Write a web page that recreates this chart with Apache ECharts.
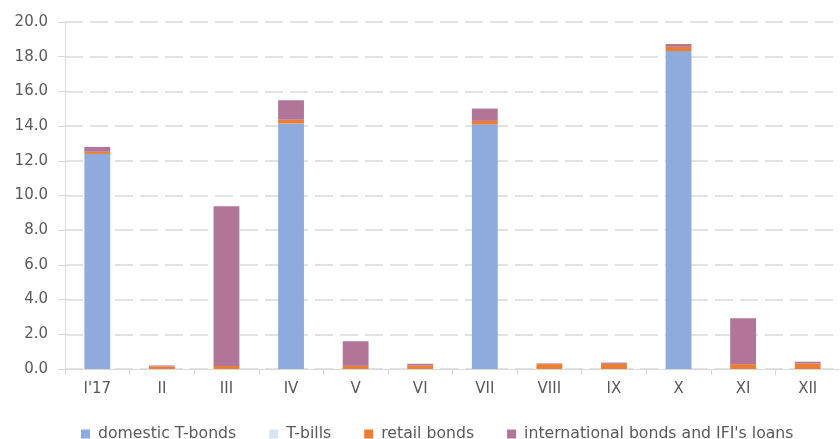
<!DOCTYPE html>
<html>
<head>
<meta charset="utf-8">
<script src="https://cdn.jsdelivr.net/npm/echarts@6/dist/echarts.min.js"></script>
<style>
  html, body { margin: 0; padding: 0; background: #ffffff; }
  #chart { width: 840px; height: 439px; }
</style>
</head>
<body>
<div id="chart"></div>
<script>
// Monthly borrowing by instrument, 2017
const months = ["I'17", "II", "III", "IV", "V", "VI", "VII", "VIII", "IX", "X", "XI", "XII"];
const domesticTBonds = [12.4, 0, 0, 14.15, 0, 0, 14.1, 0, 0, 18.33, 0, 0];
const tBills = [0, 0, 0, 0, 0, 0, 0, 0, 0, 0, 0, 0];
const retailBonds = [0.12, 0.15, 0.18, 0.22, 0.18, 0.2, 0.2, 0.28, 0.3, 0.24, 0.28, 0.32];
const intlBondsIFI = [0.28, 0.05, 9.2, 1.12, 1.42, 0.1, 0.71, 0.04, 0.07, 0.16, 2.64, 0.1];
const yTicks = { min: 0, max: 20, interval: 2 };

const FONT = 'DejaVu Sans';
const chart = echarts.init(document.getElementById('chart'), null, { renderer: 'canvas' });

function stackSeries(name, data, color) {
  return {
    name: name,
    type: 'bar',
    stack: 'total',
    data: data,
    barWidth: '40%',
    itemStyle: { color: color },
    emphasis: { disabled: true }
  };
}

chart.setOption({
  animation: false,
  backgroundColor: '#ffffff',
  textStyle: { fontFamily: FONT },
  grid: { left: 65, right: 0, top: 22, bottom: 70, containLabel: false },
  legend: {
    top: 421,
    left: 76,
    itemWidth: 9,
    itemHeight: 9,
    itemGap: 33,
    icon: 'rect',
    textStyle: { color: '#595959', fontSize: 15.7, fontFamily: FONT, padding: [0, 0, 0, 3] },
    data: ['domestic T-bonds', 'T-bills', 'retail bonds', "international bonds and IFI's loans"]
  },
  xAxis: {
    type: 'category',
    data: months,
    boundaryGap: true,
    axisLine: { show: true, lineStyle: { color: '#d9d9d9', width: 1 } },
    axisTick: { show: true, alignWithLabel: false, length: 6, lineStyle: { color: '#d9d9d9' } },
    axisLabel: { color: '#595959', fontSize: 15, fontFamily: FONT, margin: 13 }
  },
  yAxis: {
    type: 'value',
    min: yTicks.min,
    max: yTicks.max,
    interval: yTicks.interval,
    axisLine: { show: true, lineStyle: { color: '#d9d9d9', width: 1 } },
    axisTick: { show: true, length: 7, lineStyle: { color: '#d9d9d9' } },
    axisLabel: {
      color: '#595959', fontSize: 15, fontFamily: FONT, margin: 17,
      formatter: v => v.toFixed(1)
    },
    splitLine: {
      show: true,
      lineStyle: { color: '#d9d9d9', width: 1.5, type: [18, 7] }
    }
  },
  series: [
    stackSeries('domestic T-bonds', domesticTBonds, '#8faadc'),
    stackSeries('T-bills', tBills, '#dae3f3'),
    stackSeries('retail bonds', retailBonds, '#ed7d31'),
    stackSeries("international bonds and IFI's loans", intlBondsIFI, '#b07597')
  ]
});
</script>
</body>
</html>
